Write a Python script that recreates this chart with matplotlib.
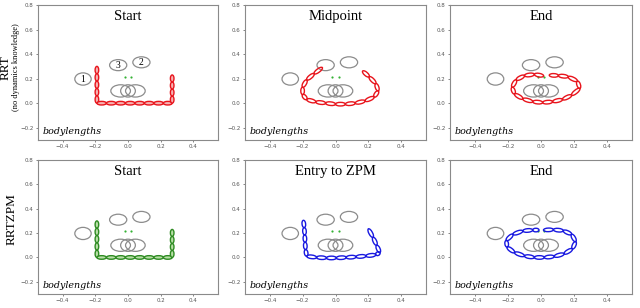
import matplotlib
matplotlib.use("Agg")
import matplotlib.pyplot as plt
import numpy as np
from matplotlib.patches import Ellipse
from matplotlib.transforms import Affine2D

# obstacles (center x, center y, width, height), same in every panel
obstacles = [(-0.275, 0.197, 0.10, 0.10), (-0.06, 0.31, 0.105, 0.09), (0.082, 0.333, 0.105, 0.09),
             (-0.045, 0.10, 0.12, 0.10), (0.0, 0.10, 0.09, 0.10), (0.045, 0.10, 0.12, 0.10)]
obstacle_labels = ["1", "3", "2"]
goal_dots_x = [-0.02, 0.02]
goal_dots_y = [0.215, 0.215]

# joint positions of the chain in each panel
start_x = [-0.19, -0.19, -0.19, -0.19, -0.19, -0.19, -0.132, -0.074, -0.016, 0.042, 0.10, 0.158, 0.216, 0.27,
           0.27, 0.27, 0.27, 0.27]
start_y = [0.30, 0.24, 0.18, 0.12, 0.06, 0.0, 0.0, 0.0, 0.0, 0.0, 0.0, 0.0, 0.0, 0.0,
           0.058, 0.115, 0.173, 0.23]
mid_x = [-0.08, -0.13, -0.175, -0.2, -0.2, -0.175, -0.12, -0.06, 0.0, 0.06, 0.12, 0.18, 0.235, 0.26, 0.245, 0.205, 0.165]
mid_y = [0.29, 0.24, 0.19, 0.13, 0.07, 0.03, 0.01, 0.0, -0.008, -0.008, 0.0, 0.018, 0.05, 0.1, 0.16, 0.215, 0.262]
end1_x = [0.016, -0.04, -0.1, -0.15, -0.175, -0.16, -0.11, -0.05, 0.01, 0.07, 0.13, 0.185, 0.235, 0.22, 0.165, 0.105, 0.05]
end1_y = [0.222, 0.235, 0.225, 0.19, 0.13, 0.075, 0.035, 0.012, 0.005, 0.012, 0.03, 0.065, 0.12, 0.18, 0.215, 0.225, 0.228]
entry_x = [-0.195, -0.19, -0.187, -0.185, -0.182, -0.175, -0.115, -0.055, 0.005, 0.065, 0.125, 0.185, 0.245, 0.27,
           0.25, 0.228, 0.2]
entry_y = [0.305, 0.245, 0.185, 0.125, 0.065, 0.01, 0.0, -0.004, -0.004, 0.0, 0.005, 0.012, 0.022, 0.04,
           0.1, 0.165, 0.235]
end2_x = [0.015, 0.075, 0.135, 0.185, 0.21, 0.19, 0.14, 0.08, 0.02, -0.04, -0.1, -0.16, -0.205, -0.21, -0.17, -0.11, -0.05, -0.012]
end2_y = [0.225, 0.228, 0.22, 0.19, 0.13, 0.07, 0.03, 0.008, 0.0, 0.0, 0.012, 0.04, 0.085, 0.14, 0.19, 0.218, 0.225, 0.225]

panels = [
    ("Start", start_x, start_y, "#e8141c", "#f6b3b3"),
    ("Midpoint", mid_x, mid_y, "#e8141c", "none"),
    ("End", end1_x, end1_y, "#e8141c", "none"),
    ("Start", start_x, start_y, "#2e8b22", "#b9dfa8"),
    ("Entry to ZPM", entry_x, entry_y, "#1818e0", "none"),
    ("End", end2_x, end2_y, "#1818e0", "none"),
]

W, H = 640, 308
fig = plt.figure(figsize=(W / 100, H / 100), dpi=100)
cols = [(38, 180), (245, 181), (450, 182)]
rows = [(5, 135), (160, 134)]
xlim = (-0.55, 0.55)
ylim = (-0.3, 0.8)

for i, (title, jx, jy, col, fill) in enumerate(panels):
    (x0, w), (y0, h) = cols[i % 3], rows[i // 3]
    ax = fig.add_axes([x0 / W, 1 - (y0 + h) / H, w / W, h / H])
    ax.set_xlim(*xlim)
    ax.set_ylim(*ylim)
    sx = w / (xlim[1] - xlim[0])
    sy = h / (ylim[1] - ylim[0])
    # pixel-like frame so links keep their shape
    tr = Affine2D().scale(1 / sx, 1 / sy) + ax.transData

    for k, (cx, cy, ew, eh) in enumerate(obstacles):
        ax.add_patch(Ellipse((cx, cy), ew, eh, fc="none", ec="#8c8c8c", lw=0.9, zorder=2))
        if i == 0 and k < 3:
            ax.text(cx, cy, obstacle_labels[k], ha="center", va="center", fontsize=7,
                    family="Liberation Serif", zorder=3)

    ax.scatter(goal_dots_x, goal_dots_y, s=2.5, color="#33b233", zorder=3, linewidths=0)

    for a in range(len(jx) - 1):
        px0, py0 = jx[a] * sx, jy[a] * sy
        px1, py1 = jx[a + 1] * sx, jy[a + 1] * sy
        length = np.hypot(px1 - px0, py1 - py0)
        ang = np.degrees(np.arctan2(py1 - py0, px1 - px0))
        ax.add_patch(Ellipse(((px0 + px1) / 2, (py0 + py1) / 2), length, 3.6, angle=ang,
                             transform=tr, fc=fill, ec=col, lw=1.0, zorder=4))

    ax.text(0.5, 0.915, title, transform=ax.transAxes, ha="center", va="center",
            fontsize=10.5, family="Liberation Serif")
    ax.text(0.025, 0.045, "bodylengths", transform=ax.transAxes, ha="left", va="baseline",
            fontsize=6.8, family="DejaVu Serif", style="italic")

    ax.set_xticks([-0.4, -0.2, 0.0, 0.2, 0.4])
    ax.set_yticks([-0.2, 0.0, 0.2, 0.4, 0.6, 0.8])
    ax.tick_params(labelsize=4, length=1.5, width=0.5, pad=1.5, colors="#555555")
    for s in ax.spines.values():
        s.set_color("#8a8a8a")
        s.set_linewidth(0.8)

fig.text(5.5 / W, 1 - 68 / H, "RRT", rotation=90, ha="center", va="center", fontsize=9.5,
         family="Liberation Serif")
fig.text(16.5 / W, 1 - 67 / H, "(no dynamics knowledge)", rotation=90, ha="center", va="center",
         fontsize=6, family="Liberation Serif")
fig.text(12 / W, 1 - 219 / H, "RRTZPM", rotation=90, ha="center", va="center", fontsize=9.5,
         family="Liberation Serif")

fig.savefig("out.png", dpi=100)
